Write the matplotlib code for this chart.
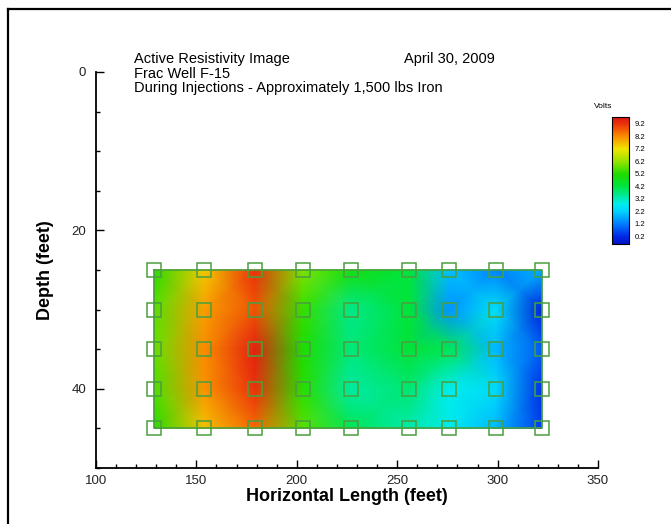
import numpy as np
import matplotlib
matplotlib.use("Agg")
import matplotlib.pyplot as plt
from matplotlib.colors import LinearSegmentedColormap
from matplotlib.lines import Line2D
from matplotlib.ticker import MultipleLocator

plt.rcParams['font.family'] = ['Liberation Sans', 'DejaVu Sans']

# ---- data ----
x_ft = [129, 154, 179, 203, 227, 256, 276, 299, 322]
depth_ft = [25, 30, 35, 40, 45]
volts = [
    [5.3, 7.5, 9.2, 6.0, 4.9, 4.2, 2.0, 1.3, 1.8],
    [5.7, 8.0, 8.8, 5.4, 3.6, 4.2, 1.5, 2.5, 0.0],
    [5.8, 8.2, 9.5, 5.2, 3.7, 4.3, 4.0, 1.9, 0.8],
    [5.6, 8.1, 9.2, 5.3, 3.4, 3.8, 2.8, 2.4, 0.3],
    [5.3, 7.6, 8.6, 5.7, 4.0, 3.3, 2.7, 1.9, 0.4],
]
cbar_ticks = [0.2, 1.2, 2.2, 3.2, 4.2, 5.2, 6.2, 7.2, 8.2, 9.2]
x_ticks = [100, 150, 200, 250, 300, 350]
y_ticks = [0, 20, 40]

title_lines = ["Active Resistivity Image", "Frac Well F-15",
               "During Injections - Approximately 1,500 lbs Iron"]
date_text = "April 30, 2009"

# ---- colormap ----
vmin, vmax = -0.4, 9.75
nodes = [
    (-0.4, (0, 20, 200)),
    (0.2, (0, 40, 230)),
    (1.2, (0, 125, 255)),
    (2.2, (0, 210, 255)),
    (2.8, (0, 238, 235)),
    (4.2, (0, 228, 60)),
    (5.2, (30, 220, 0)),
    (6.2, (150, 228, 0)),
    (7.2, (240, 230, 0)),
    (8.2, (250, 140, 0)),
    (9.2, (235, 50, 10)),
    (9.75, (220, 20, 20)),
]
cmap = LinearSegmentedColormap.from_list(
    "volts", [((v - vmin) / (vmax - vmin), tuple(c / 255 for c in rgb)) for v, rgb in nodes])

W, H = 671, 524
fig = plt.figure(figsize=(W / 100, H / 100), dpi=100)

def fx(px):
    return px / W

def fy(py):
    return 1 - py / H

ax = fig.add_axes([fx(96), fy(468), fx(598) - fx(96), fy(72) - fy(468)])

X, Y = np.meshgrid(x_ft, depth_ft)
Z = np.array(volts)
mesh = ax.pcolormesh(X, Y, Z, shading='gouraud', cmap=cmap, vmin=vmin, vmax=vmax, zorder=1)

green = '#4a9f3f'
ax.plot([x_ft[0], x_ft[-1], x_ft[-1], x_ft[0], x_ft[0]],
        [depth_ft[0], depth_ft[0], depth_ft[-1], depth_ft[-1], depth_ft[0]],
        color=green, lw=1.2, zorder=2)
ax.plot(X.ravel(), Y.ravel(), linestyle='none', marker='s', markersize=9.5,
        markerfacecolor='none', markeredgecolor=green, markeredgewidth=1.1, zorder=3)

ax.set_xlim(100, 350)
ax.set_ylim(50, 0)
ax.set_xticks(x_ticks)
ax.set_yticks(y_ticks)
ax.xaxis.set_minor_locator(MultipleLocator(10))
ax.yaxis.set_minor_locator(MultipleLocator(5))
ax.tick_params(which='both', direction='in', color='black', width=1.0,
               labelsize=9.5, labelcolor='#222222')
ax.tick_params(which='major', length=6)
ax.tick_params(which='minor', length=3)
ax.tick_params(axis='x', pad=5)
ax.tick_params(axis='y', pad=7)
for s in ['top', 'right']:
    ax.spines[s].set_visible(False)
for s in ['left', 'bottom']:
    ax.spines[s].set_linewidth(1.3)
ax.set_facecolor('white')

ax.set_xlabel("Horizontal Length (feet)", fontsize=13, fontweight='bold')
ax.set_ylabel("Depth (feet)", fontsize=13, fontweight='bold')
ax.xaxis.set_label_coords(0.5, -(488 - 468) / 396)
ax.yaxis.set_label_coords((54 - 96) / 502, 0.5)

# title lines
for txt, py in zip(title_lines, [59, 73.5, 88]):
    fig.text(fx(134), fy(py), txt, fontsize=10.5, ha='left', va='center', color='black')
fig.text(fx(404), fy(59), date_text, fontsize=10.5, ha='left', va='center', color='black')

# colorbar
cax = fig.add_axes([fx(612), fy(244), fx(629) - fx(612), fy(117) - fy(244)])
cb = fig.colorbar(mesh, cax=cax, ticks=cbar_ticks)
cb.ax.set_yticklabels([f"{t:.1f}" for t in cbar_ticks])
cb.ax.tick_params(length=0, pad=4, labelsize=5.5)
cb.outline.set_linewidth(0.8)
fig.text(fx(603), fy(107), "Volts", fontsize=6, ha='center', va='center')

# figure border (top and left)
fig.add_artist(Line2D([fx(8), 1.0], [fy(9), fy(9)], color='black', lw=1.6, transform=fig.transFigure))
fig.add_artist(Line2D([fx(8), fx(8)], [fy(9), 0.0], color='black', lw=1.6, transform=fig.transFigure))

fig.savefig("out.png", dpi=100, facecolor='white')
